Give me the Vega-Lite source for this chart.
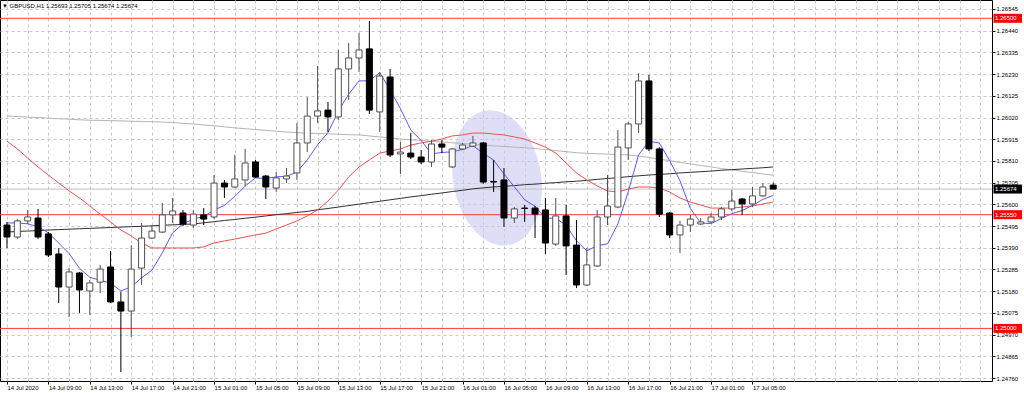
{
  "$schema": "https://vega.github.io/schema/vega-lite/v6.json",
  "width": 992,
  "height": 381,
  "autosize": "none",
  "padding": {"left": 0, "top": 0, "right": 32, "bottom": 12},
  "background": "#ffffff",
  "config": {"view": {"stroke": "#000000", "strokeWidth": 1}, "font": "Liberation Sans", "axis": {"labelOverlap": false, "labelFlush": false, "labelBound": false}},
  "title": {"text": "▼ GBPUSD,H1  1.25693 1.25705 1.25674 1.25674", "anchor": "start", "frame": "group", "offset": -9, "fontSize": 6, "font": "Liberation Sans", "fontWeight": "normal", "color": "#000000", "dx": 2},
  "datasets": {
    "candles": [
      {"t":"2020-07-14T05:00:00Z","o":1.25500,"h":1.25515,"l":1.25389,"c":1.25442,"fast":1.25510,"mid":1.25906,"slow":1.25466,"slower":1.26027},
      {"t":"2020-07-14T06:00:00Z","o":1.25442,"h":1.25529,"l":1.25432,"c":1.25520,"fast":1.25510,"mid":1.25868,"slow":1.25469,"slower":1.26025},
      {"t":"2020-07-14T07:00:00Z","o":1.25520,"h":1.25573,"l":1.25505,"c":1.25539,"fast":1.25506,"mid":1.25824,"slow":1.25471,"slower":1.26022},
      {"t":"2020-07-14T08:00:00Z","o":1.25534,"h":1.25578,"l":1.25432,"c":1.25442,"fast":1.25492,"mid":1.25781,"slow":1.25473,"slower":1.26020},
      {"t":"2020-07-14T09:00:00Z","o":1.25457,"h":1.25466,"l":1.25345,"c":1.25355,"fast":1.25462,"mid":1.25742,"slow":1.25476,"slower":1.26017},
      {"t":"2020-07-14T10:00:00Z","o":1.25360,"h":1.25389,"l":1.25123,"c":1.25200,"fast":1.25413,"mid":1.25703,"slow":1.25478,"slower":1.26014},
      {"t":"2020-07-14T11:00:00Z","o":1.25200,"h":1.25292,"l":1.25055,"c":1.25273,"fast":1.25362,"mid":1.25665,"slow":1.25480,"slower":1.26012},
      {"t":"2020-07-14T12:00:00Z","o":1.25268,"h":1.25273,"l":1.25075,"c":1.25186,"fast":1.25291,"mid":1.25631,"slow":1.25482,"slower":1.26009},
      {"t":"2020-07-14T13:00:00Z","o":1.25181,"h":1.25234,"l":1.25065,"c":1.25220,"fast":1.25247,"mid":1.25592,"slow":1.25484,"slower":1.26007},
      {"t":"2020-07-14T14:00:00Z","o":1.25224,"h":1.25307,"l":1.25171,"c":1.25287,"fast":1.25233,"mid":1.25553,"slow":1.25486,"slower":1.26006},
      {"t":"2020-07-14T15:00:00Z","o":1.25297,"h":1.25374,"l":1.25123,"c":1.25128,"fast":1.25219,"mid":1.25515,"slow":1.25488,"slower":1.26005},
      {"t":"2020-07-14T16:00:00Z","o":1.25128,"h":1.25176,"l":1.24789,"c":1.25084,"fast":1.25181,"mid":1.25476,"slow":1.25490,"slower":1.26004},
      {"t":"2020-07-14T17:00:00Z","o":1.25084,"h":1.25403,"l":1.24958,"c":1.25287,"fast":1.25201,"mid":1.25447,"slow":1.25492,"slower":1.26002},
      {"t":"2020-07-14T18:00:00Z","o":1.25292,"h":1.25510,"l":1.25210,"c":1.25437,"fast":1.25245,"mid":1.25413,"slow":1.25494,"slower":1.26001},
      {"t":"2020-07-14T19:00:00Z","o":1.25437,"h":1.25500,"l":1.25432,"c":1.25471,"fast":1.25281,"mid":1.25389,"slow":1.25496,"slower":1.26000},
      {"t":"2020-07-14T20:00:00Z","o":1.25466,"h":1.25607,"l":1.25461,"c":1.25549,"fast":1.25366,"mid":1.25389,"slow":1.25499,"slower":1.25998},
      {"t":"2020-07-14T21:00:00Z","o":1.25549,"h":1.25631,"l":1.25510,"c":1.25568,"fast":1.25462,"mid":1.25389,"slow":1.25501,"slower":1.25996},
      {"t":"2020-07-14T22:00:00Z","o":1.25558,"h":1.25573,"l":1.25495,"c":1.25505,"fast":1.25506,"mid":1.25389,"slow":1.25503,"slower":1.25992},
      {"t":"2020-07-14T23:00:00Z","o":1.25500,"h":1.25573,"l":1.25486,"c":1.25553,"fast":1.25529,"mid":1.25389,"slow":1.25505,"slower":1.25989},
      {"t":"2020-07-15T00:00:00Z","o":1.25549,"h":1.25582,"l":1.25500,"c":1.25529,"fast":1.25541,"mid":1.25394,"slow":1.25511,"slower":1.25984},
      {"t":"2020-07-15T01:00:00Z","o":1.25539,"h":1.25742,"l":1.25529,"c":1.25703,"fast":1.25572,"mid":1.25413,"slow":1.25516,"slower":1.25980},
      {"t":"2020-07-15T02:00:00Z","o":1.25703,"h":1.25718,"l":1.25631,"c":1.25684,"fast":1.25595,"mid":1.25423,"slow":1.25522,"slower":1.25975},
      {"t":"2020-07-15T03:00:00Z","o":1.25684,"h":1.25839,"l":1.25679,"c":1.25723,"fast":1.25638,"mid":1.25432,"slow":1.25527,"slower":1.25970},
      {"t":"2020-07-15T04:00:00Z","o":1.25718,"h":1.25868,"l":1.25689,"c":1.25800,"fast":1.25688,"mid":1.25442,"slow":1.25533,"slower":1.25966},
      {"t":"2020-07-15T05:00:00Z","o":1.25805,"h":1.25815,"l":1.25728,"c":1.25732,"fast":1.25728,"mid":1.25452,"slow":1.25538,"slower":1.25962},
      {"t":"2020-07-15T06:00:00Z","o":1.25737,"h":1.25742,"l":1.25626,"c":1.25684,"fast":1.25725,"mid":1.25461,"slow":1.25544,"slower":1.25958},
      {"t":"2020-07-15T07:00:00Z","o":1.25679,"h":1.25757,"l":1.25660,"c":1.25728,"fast":1.25733,"mid":1.25481,"slow":1.25550,"slower":1.25954},
      {"t":"2020-07-15T08:00:00Z","o":1.25723,"h":1.25776,"l":1.25703,"c":1.25737,"fast":1.25736,"mid":1.25500,"slow":1.25555,"slower":1.25950},
      {"t":"2020-07-15T09:00:00Z","o":1.25752,"h":1.25994,"l":1.25718,"c":1.25897,"fast":1.25756,"mid":1.25520,"slow":1.25561,"slower":1.25947},
      {"t":"2020-07-15T10:00:00Z","o":1.25897,"h":1.26119,"l":1.25853,"c":1.26027,"fast":1.25815,"mid":1.25544,"slow":1.25566,"slower":1.25944},
      {"t":"2020-07-15T11:00:00Z","o":1.26027,"h":1.26269,"l":1.25994,"c":1.26052,"fast":1.25888,"mid":1.25573,"slow":1.25574,"slower":1.25943},
      {"t":"2020-07-15T12:00:00Z","o":1.26056,"h":1.26095,"l":1.25950,"c":1.26023,"fast":1.25947,"mid":1.25616,"slow":1.25580,"slower":1.25941},
      {"t":"2020-07-15T13:00:00Z","o":1.26023,"h":1.26347,"l":1.26008,"c":1.26255,"fast":1.26051,"mid":1.25669,"slow":1.25587,"slower":1.25939},
      {"t":"2020-07-15T14:00:00Z","o":1.26255,"h":1.26381,"l":1.26105,"c":1.26308,"fast":1.26133,"mid":1.25732,"slow":1.25594,"slower":1.25937},
      {"t":"2020-07-15T15:00:00Z","o":1.26308,"h":1.26429,"l":1.26240,"c":1.26347,"fast":1.26197,"mid":1.25781,"slow":1.25601,"slower":1.25936},
      {"t":"2020-07-15T16:00:00Z","o":1.26352,"h":1.26487,"l":1.26037,"c":1.26056,"fast":1.26198,"mid":1.25815,"slow":1.25608,"slower":1.25931},
      {"t":"2020-07-15T17:00:00Z","o":1.26047,"h":1.26240,"l":1.25950,"c":1.26221,"fast":1.26237,"mid":1.25848,"slow":1.25615,"slower":1.25926},
      {"t":"2020-07-15T18:00:00Z","o":1.26216,"h":1.26255,"l":1.25829,"c":1.25839,"fast":1.26154,"mid":1.25858,"slow":1.25622,"slower":1.25922},
      {"t":"2020-07-15T19:00:00Z","o":1.25844,"h":1.25902,"l":1.25747,"c":1.25853,"fast":1.26063,"mid":1.25868,"slow":1.25629,"slower":1.25916},
      {"t":"2020-07-15T20:00:00Z","o":1.25848,"h":1.25945,"l":1.25819,"c":1.25829,"fast":1.25960,"mid":1.25887,"slow":1.25636,"slower":1.25912},
      {"t":"2020-07-15T21:00:00Z","o":1.25829,"h":1.25863,"l":1.25795,"c":1.25805,"fast":1.25909,"mid":1.25897,"slow":1.25642,"slower":1.25909},
      {"t":"2020-07-15T22:00:00Z","o":1.25805,"h":1.25911,"l":1.25781,"c":1.25892,"fast":1.25844,"mid":1.25906,"slow":1.25649,"slower":1.25905},
      {"t":"2020-07-15T23:00:00Z","o":1.25892,"h":1.25911,"l":1.25848,"c":1.25877,"fast":1.25851,"mid":1.25916,"slow":1.25655,"slower":1.25902},
      {"t":"2020-07-16T00:00:00Z","o":1.25781,"h":1.25873,"l":1.25776,"c":1.25868,"fast":1.25854,"mid":1.25931,"slow":1.25662,"slower":1.25898},
      {"t":"2020-07-16T01:00:00Z","o":1.25868,"h":1.25897,"l":1.25863,"c":1.25887,"fast":1.25866,"mid":1.25936,"slow":1.25668,"slower":1.25894},
      {"t":"2020-07-16T02:00:00Z","o":1.25882,"h":1.25931,"l":1.25877,"c":1.25897,"fast":1.25884,"mid":1.25945,"slow":1.25675,"slower":1.25891},
      {"t":"2020-07-16T03:00:00Z","o":1.25897,"h":1.25902,"l":1.25699,"c":1.25708,"fast":1.25847,"mid":1.25945,"slow":1.25680,"slower":1.25886},
      {"t":"2020-07-16T04:00:00Z","o":1.25711,"h":1.25815,"l":1.25660,"c":1.25708,"fast":1.25814,"mid":1.25940,"slow":1.25684,"slower":1.25883},
      {"t":"2020-07-16T05:00:00Z","o":1.25718,"h":1.25776,"l":1.25491,"c":1.25534,"fast":1.25747,"mid":1.25936,"slow":1.25687,"slower":1.25880},
      {"t":"2020-07-16T06:00:00Z","o":1.25534,"h":1.25587,"l":1.25510,"c":1.25578,"fast":1.25685,"mid":1.25926,"slow":1.25691,"slower":1.25877},
      {"t":"2020-07-16T07:00:00Z","o":1.25582,"h":1.25597,"l":1.25515,"c":1.25580,"fast":1.25622,"mid":1.25916,"slow":1.25695,"slower":1.25874},
      {"t":"2020-07-16T08:00:00Z","o":1.25582,"h":1.25592,"l":1.25437,"c":1.25553,"fast":1.25591,"mid":1.25897,"slow":1.25698,"slower":1.25870},
      {"t":"2020-07-16T09:00:00Z","o":1.25573,"h":1.25631,"l":1.25360,"c":1.25413,"fast":1.25532,"mid":1.25877,"slow":1.25702,"slower":1.25865},
      {"t":"2020-07-16T10:00:00Z","o":1.25408,"h":1.25631,"l":1.25399,"c":1.25544,"fast":1.25534,"mid":1.25848,"slow":1.25705,"slower":1.25860},
      {"t":"2020-07-16T11:00:00Z","o":1.25544,"h":1.25597,"l":1.25258,"c":1.25399,"fast":1.25498,"mid":1.25800,"slow":1.25709,"slower":1.25855},
      {"t":"2020-07-16T12:00:00Z","o":1.25403,"h":1.25524,"l":1.25195,"c":1.25210,"fast":1.25424,"mid":1.25752,"slow":1.25712,"slower":1.25850},
      {"t":"2020-07-16T13:00:00Z","o":1.25210,"h":1.25389,"l":1.25205,"c":1.25307,"fast":1.25375,"mid":1.25718,"slow":1.25716,"slower":1.25847},
      {"t":"2020-07-16T14:00:00Z","o":1.25302,"h":1.25573,"l":1.25297,"c":1.25539,"fast":1.25400,"mid":1.25689,"slow":1.25721,"slower":1.25845},
      {"t":"2020-07-16T15:00:00Z","o":1.25539,"h":1.25742,"l":1.25500,"c":1.25592,"fast":1.25409,"mid":1.25665,"slow":1.25725,"slower":1.25843},
      {"t":"2020-07-16T16:00:00Z","o":1.25587,"h":1.25960,"l":1.25582,"c":1.25877,"fast":1.25505,"mid":1.25660,"slow":1.25729,"slower":1.25841},
      {"t":"2020-07-16T17:00:00Z","o":1.25873,"h":1.25998,"l":1.25815,"c":1.25989,"fast":1.25661,"mid":1.25674,"slow":1.25734,"slower":1.25839},
      {"t":"2020-07-16T18:00:00Z","o":1.25989,"h":1.26235,"l":1.25945,"c":1.26197,"fast":1.25839,"mid":1.25684,"slow":1.25738,"slower":1.25834},
      {"t":"2020-07-16T19:00:00Z","o":1.26197,"h":1.26226,"l":1.25858,"c":1.25868,"fast":1.25905,"mid":1.25684,"slow":1.25742,"slower":1.25827},
      {"t":"2020-07-16T20:00:00Z","o":1.25868,"h":1.25877,"l":1.25539,"c":1.25553,"fast":1.25897,"mid":1.25679,"slow":1.25745,"slower":1.25818},
      {"t":"2020-07-16T21:00:00Z","o":1.25558,"h":1.25563,"l":1.25437,"c":1.25452,"fast":1.25812,"mid":1.25660,"slow":1.25748,"slower":1.25812},
      {"t":"2020-07-16T22:00:00Z","o":1.25452,"h":1.25520,"l":1.25365,"c":1.25500,"fast":1.25714,"mid":1.25631,"slow":1.25752,"slower":1.25803},
      {"t":"2020-07-16T23:00:00Z","o":1.25500,"h":1.25549,"l":1.25466,"c":1.25529,"fast":1.25580,"mid":1.25611,"slow":1.25755,"slower":1.25796},
      {"t":"2020-07-17T00:00:00Z","o":1.25505,"h":1.25534,"l":1.25500,"c":1.25515,"fast":1.25510,"mid":1.25597,"slow":1.25758,"slower":1.25788},
      {"t":"2020-07-17T01:00:00Z","o":1.25515,"h":1.25558,"l":1.25510,"c":1.25539,"fast":1.25507,"mid":1.25582,"slow":1.25761,"slower":1.25781},
      {"t":"2020-07-17T02:00:00Z","o":1.25539,"h":1.25587,"l":1.25524,"c":1.25578,"fast":1.25532,"mid":1.25582,"slow":1.25765,"slower":1.25773},
      {"t":"2020-07-17T03:00:00Z","o":1.25578,"h":1.25670,"l":1.25568,"c":1.25616,"fast":1.25555,"mid":1.25582,"slow":1.25768,"slower":1.25767},
      {"t":"2020-07-17T04:00:00Z","o":1.25626,"h":1.25631,"l":1.25549,"c":1.25602,"fast":1.25570,"mid":1.25587,"slow":1.25771,"slower":1.25760},
      {"t":"2020-07-17T05:00:00Z","o":1.25602,"h":1.25684,"l":1.25587,"c":1.25641,"fast":1.25595,"mid":1.25592,"slow":1.25774,"slower":1.25754},
      {"t":"2020-07-17T06:00:00Z","o":1.25641,"h":1.25703,"l":1.25636,"c":1.25684,"fast":1.25624,"mid":1.25602,"slow":1.25777,"slower":1.25747},
      {"t":"2020-07-17T07:00:00Z","o":1.25693,"h":1.25705,"l":1.25674,"c":1.25674,"fast":1.25643,"mid":1.25611,"slow":1.25781,"slower":1.25741}
    ],
    "levels": [
      {"p": 1.26500, "kind": "level", "label": "1.26500"},
      {"p": 1.25550, "kind": "level", "label": "1.25550"},
      {"p": 1.25000, "kind": "level", "label": "1.25000"},
      {"p": 1.25674, "kind": "price", "label": "1.25674"}
    ],
    "shapes": [
      {"t": "2020-07-16T04:20:00Z", "p": 1.25728}
    ]
  },
  "layer": [
    {
      "data": {"name": "shapes"},
      "mark": {"type": "point", "shape": "M1,0C1,0.856,0.5523,1.55,0,1.55C-0.5523,1.55,-1,0.856,-1,0C-1,-0.856,-0.5523,-1.55,0,-1.55C0.5523,-1.55,1,-0.856,1,0Z", "filled": true, "fill": "#c8c8f0", "fillOpacity": 0.6, "strokeWidth": 0, "size": 7744, "angle": -10, "clip": true},
      "encoding": {
        "x": {"field": "t", "type": "temporal", "title": null, "scale": {"type": "utc", "domain": [1594702112000, 1595043540000]},
          "axis": {"orient": "bottom", "title": null, "domain": false, "tickCount": 500,
            "values": [1594702800000,1594710000000,1594717200000,1594724400000,1594731600000,1594738800000,1594746000000,1594753200000,1594760400000,1594767600000,1594774800000,1594782000000,1594789200000,1594796400000,1594803600000,1594810800000,1594818000000,1594825200000,1594832400000,1594839600000,1594846800000,1594854000000,1594861200000,1594868400000,1594875600000,1594882800000,1594890000000,1594897200000,1594904400000,1594911600000,1594918800000,1594926000000,1594933200000,1594940400000,1594947600000,1594954800000,1594962000000,1594969200000,1594976400000,1594983600000,1594990800000,1594998000000,1595005200000,1595012400000,1595019600000,1595026800000,1595034000000,1595041200000],
            "labelExpr": "time(datum.value) === 1594702800000 ? '14 Jul 2020' : (((time(datum.value) - 1594702800000) % 14400000 === 0 && time(datum.value) <= 1594962000000) ? utcFormat(datum.value, '%d %b %H:%M') : '')",
            "tickSize": 3, "tickColor": "#000000",
            "tickOpacity": {"condition": {"test": "(time(datum.value) - 1594702800000) % 14400000 === 0 && time(datum.value) <= 1594962000000", "value": 1}, "value": 0},
            "labelAlign": "left", "labelBaseline": "top", "labelPadding": 0, "labelFontSize": 6, "labelFont": "Liberation Sans", "labelColor": "#000000",
            "labelOverlap": false, "labelFlush": false, "labelBound": false,
            "grid": true, "gridColor": "#c8c8c8", "gridDash": [3, 3], "gridWidth": 1}},
        "y": {"field": "p", "type": "quantitative", "title": null, "scale": {"domain": [1.247456, 1.265885], "nice": false, "zero": false},
          "axis": {"orient": "right", "title": null, "domain": false, "tickCount": 500,
            "values": [1.26545,1.2644,1.26335,1.2623,1.26125,1.2602,1.25915,1.2581,1.25705,1.256,1.25495,1.2539,1.25285,1.2518,1.25075,1.2497,1.24865,1.2476],
            "format": ".5f", "tickSize": 3, "tickColor": "#000000",
            "labelAlign": "left", "labelBaseline": "middle", "labelPadding": 1, "labelFontSize": 6, "labelFont": "Liberation Sans", "labelColor": "#000000",
            "labelOverlap": false, "labelFlush": false, "labelBound": false,
            "grid": true, "gridColor": "#c8c8c8", "gridDash": [3, 3], "gridWidth": 1}}
      }
    },
    {
      "data": {"name": "levels"},
      "mark": {"type": "rule", "strokeWidth": 1},
      "encoding": {
        "y": {"field": "p", "type": "quantitative", "title": null, "scale": {"domain": [1.247456, 1.265885], "nice": false, "zero": false}},
        "color": {"field": "kind", "type": "nominal", "scale": {"domain": ["level", "price"], "range": ["#f03c3c", "#c0c0c0"]}, "legend": null}
      }
    },
    {
      "data": {"name": "candles"},
      "encoding": {
        "x": {"field": "t", "type": "temporal", "title": null, "scale": {"type": "utc", "domain": [1594702112000, 1595043540000]}}
      },
      "layer": [
        {"mark": {"type": "line", "color": "#b4b4b4", "strokeWidth": 1, "clip": true},
         "encoding": {"y": {"field": "slower", "type": "quantitative", "title": null, "scale": {"domain": [1.247456, 1.265885], "nice": false, "zero": false}}}},
        {"mark": {"type": "line", "color": "#303030", "strokeWidth": 1, "clip": true},
         "encoding": {"y": {"field": "slow", "type": "quantitative", "title": null, "scale": {"domain": [1.247456, 1.265885], "nice": false, "zero": false}}}},
        {"mark": {"type": "line", "color": "#f05050", "strokeWidth": 1, "clip": true},
         "encoding": {"y": {"field": "mid", "type": "quantitative", "title": null, "scale": {"domain": [1.247456, 1.265885], "nice": false, "zero": false}}}},
        {"mark": {"type": "line", "color": "#5a5af0", "strokeWidth": 1, "clip": true},
         "encoding": {"y": {"field": "fast", "type": "quantitative", "title": null, "scale": {"domain": [1.247456, 1.265885], "nice": false, "zero": false}}}},
        {"mark": {"type": "rule", "strokeWidth": 1, "clip": true},
         "encoding": {
           "y": {"field": "l", "type": "quantitative", "title": null, "scale": {"domain": [1.247456, 1.265885], "nice": false, "zero": false}},
           "y2": {"field": "h"},
           "color": {"condition": {"test": "datum.c >= datum.o", "value": "#505050"}, "value": "#000000"}}},
        {"mark": {"type": "bar", "size": 6, "strokeWidth": 1, "clip": true},
         "encoding": {
           "y": {"field": "o", "type": "quantitative", "title": null, "scale": {"domain": [1.247456, 1.265885], "nice": false, "zero": false}},
           "y2": {"field": "c"},
           "fill": {"condition": {"test": "datum.c >= datum.o", "value": "#ffffff"}, "value": "#000000"},
           "stroke": {"condition": {"test": "datum.c >= datum.o", "value": "#505050"}, "value": "#000000"}}}
      ]
    },
    {
      "data": {"name": "levels"},
      "mark": {"type": "point", "shape": "M0.1,-0.3L2,-0.3L2,0.3L0.1,0.3Z", "filled": true, "size": 900, "strokeWidth": 0, "opacity": 1, "clip": false},
      "encoding": {
        "x": {"value": "width"},
        "y": {"field": "p", "type": "quantitative", "title": null, "scale": {"domain": [1.247456, 1.265885], "nice": false, "zero": false}},
        "fill": {"field": "kind", "type": "nominal", "scale": {"domain": ["level", "price"], "range": ["#ff0000", "#000000"]}, "legend": null}
      }
    },
    {
      "data": {"name": "levels"},
      "mark": {"type": "text", "align": "left", "baseline": "middle", "dx": 3, "fontSize": 6, "font": "Liberation Sans", "color": "#ffffff", "clip": false},
      "encoding": {
        "x": {"value": "width"},
        "y": {"field": "p", "type": "quantitative", "title": null, "scale": {"domain": [1.247456, 1.265885], "nice": false, "zero": false}},
        "text": {"field": "label"}
      }
    }
  ]
}
